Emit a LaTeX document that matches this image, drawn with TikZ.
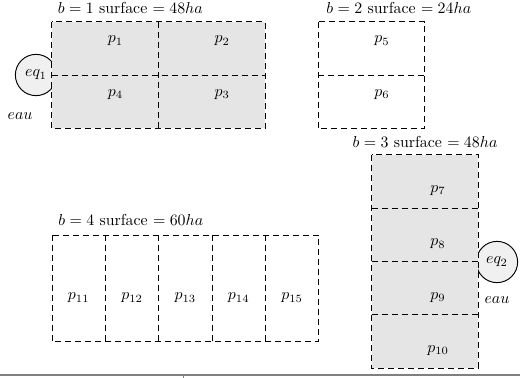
\documentclass[tikz,border=0pt]{standalone}
\usepackage{tikz}
\usetikzlibrary{positioning}
\tikzset{
	node distance=0pt,
	every text node part/.style= {
		align=center
	},
	parcel/.style= {
		rectangle,
		outer sep=0pt,
		inner sep=0pt
	},
	wide/.style= {
		parcel,
		minimum width=67.3pt,
		minimum height=33.6pt
	},
	tall/.style= {
		parcel,
		minimum width=33.6pt,
		minimum height=67.3pt
	},
	used/.style= {
		fill=black!10
	},
	border/.style= {
		dash pattern=on 3.8pt off 2.5pt,
		line width=0.6pt
	},
	tagup/.style= {label={[xshift=6.6pt, yshift=4.7pt]center:#1}},
	tagdown/.style= {label={[xshift=8.2pt, yshift=-5.7pt]center:#1}},
	tagcol/.style= {label={[yshift=-6pt]center:#1}},
	title/.style= {
		inner sep=1pt
	},
	pump/.style= {
		circle,
		draw,
		fill=black!6,
		line width=0.6pt,
		minimum size=26pt,
		inner sep=0pt,
		outer sep=0pt
	}
}

\begin{document}
\begin{tikzpicture}[x=0.63pt, y=-0.63pt]
	\useasboundingbox (0,0) rectangle (520,378);
	
	% water points, under the blocks
	\node (eq1)[pump] at (36,75) {$eq_1$};
	\node (eq2)[pump] at (497,262) {$eq_2$};
	\node (eau1)[below=7pt of eq1, xshift=-10pt]{$eau$};
	\node (eau2)[below=5.5pt of eq2]{$eau$};
	
	% block 1
	\node (p1)[wide, used, tagup=$p_1$] at (105,48.5) {};
	\node (p2)[wide, used, right=of p1, tagup=$p_2$]{};
	\node (p4)[wide, used, below=of p1, tagup=$p_4$]{};
	\node (p3)[wide, used, right=of p4, tagup=$p_3$]{};
	\draw[border] (p1.north west) rectangle (p3.south east);
	\draw[border] (p1.south west) -- (p2.south east);
	\draw[border] (p1.north east) -- (p4.south east);
	\node (b1)[title, above right=4pt and 2.8pt of p1.north west]{$b=1$ surface $=48ha$};
	
	% block 2
	\node (p5)[wide, tagup=$p_5$] at (371.5,48.5) {};
	\node (p6)[wide, below=of p5, tagup=$p_6$]{};
	\draw[border] (p5.north west) rectangle (p6.south east);
	\draw[border] (p5.south west) -- (p5.south east);
	\node (b2)[title, above right=4pt and 4pt of p5.north west]{$b=2$ surface $=24ha$};
	
	% block 3
	\node (p7)[wide, used, tagdown=$p_7$] at (425,181.5) {};
	\node (p8)[wide, used, below=of p7, tagdown=$p_8$]{};
	\node (p9)[wide, used, below=of p8, tagdown=$p_9$]{};
	\node (p10)[wide, used, below=of p9, tagdown=$p_{10}$]{};
	\draw[border] (p7.north west) rectangle (p10.south east);
	\draw[border] (p7.south west) -- (p7.south east);
	\draw[border] (p8.south west) -- (p8.south east);
	\draw[border] (p9.south west) -- (p9.south east);
	\node (b3)[title, above=3.4pt of p7]{$b=3$ surface $=48ha$};
	
	% block 4
	\node (p11)[tall, tagcol=$p_{11}$] at (78.7,288.5) {};
	\node (p12)[tall, right=of p11, tagcol=$p_{12}$]{};
	\node (p13)[tall, right=of p12, tagcol=$p_{13}$]{};
	\node (p14)[tall, right=of p13, tagcol=$p_{14}$]{};
	\node (p15)[tall, right=of p14, tagcol=$p_{15}$]{};
	\draw[border] (p11.north west) rectangle (p15.south east);
	\draw[border] (p11.north east) -- (p11.south east);
	\draw[border] (p12.north east) -- (p12.south east);
	\draw[border] (p13.north east) -- (p13.south east);
	\draw[border] (p14.north east) -- (p14.south east);
	\node (b4)[title, above right=4.7pt and 2.8pt of p11.north west]{$b=4$ surface $=60ha$};
	
	% page rule
	\coordinate (ruleL) at (0,375);
	\coordinate (ruleR) at (520,375);
	\coordinate (tickT) at (183,375);
	\coordinate (tickB) at (183,378);
	\draw[gray, line width=0.8pt] (ruleL) -- (ruleR);
	\draw[gray, line width=0.5pt] (tickT) -- (tickB);
	
\end{tikzpicture}
\end{document}
